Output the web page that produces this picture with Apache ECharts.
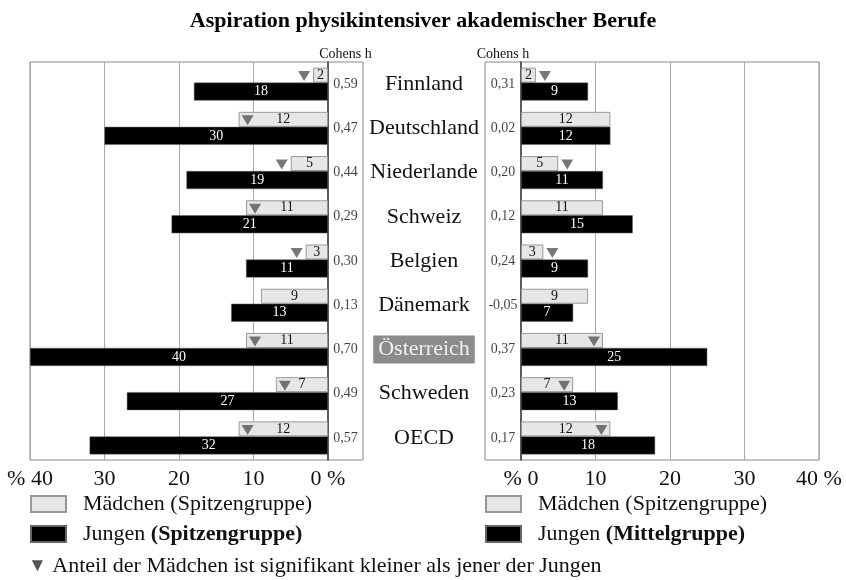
<!DOCTYPE html>
<html>
<head>
<meta charset="utf-8">
<script src="https://cdn.jsdelivr.net/npm/echarts@6/dist/echarts.min.js"></script>
<style>
  html, body { margin: 0; padding: 0; background: #fff; }
  #main { width: 846px; height: 580px; }
</style>
</head>
<body>
<div id="main"></div>
<script>
// Daten: Anteil in %, Zeilen von oben nach unten
var countries = ['Finnland', 'Deutschland', 'Niederlande', 'Schweiz', 'Belgien', 'Dänemark', 'Österreich', 'Schweden', 'OECD'];
var girlsTop = [2, 12, 5, 11, 3, 9, 11, 7, 12];
var boysTop = [18, 30, 19, 21, 11, 13, 40, 27, 32];
var boysMid = [9, 12, 11, 15, 9, 7, 25, 13, 18];
var cohenTop = [0.59, 0.47, 0.44, 0.29, 0.30, 0.13, 0.70, 0.49, 0.57];
var cohenMid = [0.31, 0.02, 0.20, 0.12, 0.24, -0.05, 0.37, 0.23, 0.17];
// 1 = Anteil der Mädchen signifikant kleiner
var sigTop = [1, 1, 1, 1, 1, 0, 1, 1, 1];
var sigMid = [1, 0, 1, 0, 1, 0, 1, 1, 1];
var tickLeft = {40: '% 40', 30: '30', 20: '20', 10: '10', 0: '0 %'};
var tickRight = {0: '% 0', 10: '10', 20: '20', 30: '30', 40: '40 %'};

var FONT = '"Liberation Serif", "Times New Roman", serif';
var GIRL = '#e6e6e6', BOY = '#000';

var myChart = echarts.init(document.getElementById('main'));

function fmtH(v) {
    return v.toFixed(2).replace('.', ',');
}

// Dreiecke: kurze Balken -> außerhalb, lange -> innen am Balkenende
function triData(vals, sig, dir) {
    var out = [];
    for (var i = 0; i < vals.length; i++) {
        if (!sig[i]) continue;
        var dx = vals[i] < 6 ? 9 * dir : -9 * dir;
        out.push({value: [vals[i], countries[i]], symbolOffset: [dx, -8]});
    }
    return out;
}

function cohenData(vals) {
    return vals.map(function (v, i) { return [0.5, countries[i], v]; });
}

var gridTop = 62, gridBottom = 120;

var valueAxis = function (idx, inverse, labels) {
    return {
        type: 'value', gridIndex: idx, min: 0, max: 40, interval: 10, inverse: inverse,
        axisLine: {show: false}, axisTick: {show: false},
        splitLine: {lineStyle: {color: '#a8a8a8', width: 1}},
        axisLabel: {
            margin: 8, color: '#111', fontFamily: FONT, fontSize: 22,
            formatter: function (v) { return labels[v]; }
        }
    };
};

var hAxis = function (idx) {
    return {
        type: 'value', gridIndex: idx, min: 0, max: 1, position: 'top',
        name: 'Cohens h', nameLocation: 'middle', nameGap: 1,
        nameTextStyle: {fontFamily: FONT, fontSize: 14, color: '#111', verticalAlign: 'bottom'},
        axisLine: {show: false}, axisTick: {show: false},
        axisLabel: {show: false}, splitLine: {show: false}
    };
};

var catAxis = function (idx, pos, extra) {
    var a = {
        type: 'category', gridIndex: idx, data: countries, inverse: true, position: pos,
        axisTick: {show: false}, axisLabel: {show: false},
        axisLine: {show: false}
    };
    return Object.assign(a, extra || {});
};

var barLabel = function (color) {
    return {show: true, position: 'inside', color: color, fontFamily: FONT, fontSize: 14};
};

var legendText = {
    fontFamily: FONT, fontSize: 22, color: '#111', padding: [0, 0, 0, 12],
    rich: {b: {fontFamily: FONT, fontSize: 22, fontWeight: 'bold', color: '#111'}}
};
var legendFmt = function (n) {
    return n.indexOf('Jungen') === 0 ? 'Jungen {b|' + n.slice(7) + '}' : n;
};

option = {
    animation: false,
    title: [{
        text: 'Aspiration physikintensiver akademischer Berufe',
        left: 'center', top: 5,
        textStyle: {fontFamily: FONT, fontSize: 22, fontWeight: 'bold', color: '#000'}
    }, {
        text: '{t|▼} Anteil der Mädchen ist signifikant kleiner als jener der Jungen',
        left: 28, top: 555, padding: 0,
        textStyle: {
            fontFamily: FONT, fontSize: 22, fontWeight: 'normal', color: '#111',
            rich: {t: {fontSize: 19, color: '#555'}}
        }
    }],
    legend: [{
        data: ['Mädchen (Spitzengruppe)', 'Jungen (Spitzengruppe)'],
        orient: 'vertical', left: 30, top: 493, padding: 0,
        itemWidth: 35, itemHeight: 16, itemGap: 8,
        icon: 'rect', selectedMode: false,
        textStyle: legendText, formatter: legendFmt
    }, {
        data: ['Mädchen (Spitzengruppe)', 'Jungen (Mittelgruppe)'],
        orient: 'vertical', left: 485, top: 493, padding: 0,
        itemWidth: 35, itemHeight: 16, itemGap: 8,
        icon: 'rect', selectedMode: false,
        textStyle: legendText, formatter: legendFmt
    }],
    grid: [
        {left: 30, right: 518, top: gridTop, bottom: gridBottom, show: true, borderColor: '#888', borderWidth: 1},
        {left: 328, right: 483, top: gridTop, bottom: gridBottom, show: true, borderColor: '#888', borderWidth: 1},
        {left: 485, right: 325, top: gridTop, bottom: gridBottom, show: true, borderColor: '#888', borderWidth: 1},
        {left: 521, right: 27, top: gridTop, bottom: gridBottom, show: true, borderColor: '#888', borderWidth: 1}
    ],
    xAxis: [
        valueAxis(0, true, tickLeft),
        hAxis(1),
        hAxis(2),
        valueAxis(3, false, tickRight)
    ],
    yAxis: [
        catAxis(0, 'right', {axisLine: {show: true, lineStyle: {color: '#444', width: 1.5}}}),
        catAxis(1, 'left'),
        catAxis(2, 'left', {
            axisLabel: {
                show: true, margin: 61, align: 'center', color: '#111',
                fontFamily: FONT, fontSize: 22,
                formatter: function (v) { return v === 'Österreich' ? '{hl|' + v + '}' : v; },
                rich: {hl: {fontFamily: FONT, fontSize: 22, color: '#f0f0f0', backgroundColor: '#8c8c8c', padding: [3, 5, 3, 5]}}
            }
        }),
        catAxis(3, 'left', {axisLine: {show: true, lineStyle: {color: '#444', width: 1.5}}})
    ],
    series: [
        // links: Spitzengruppe
        {
            name: 'Mädchen (Spitzengruppe)', type: 'bar', xAxisIndex: 0, yAxisIndex: 0,
            data: girlsTop, barWidth: 15, barGap: '0%',
            itemStyle: {color: GIRL, borderColor: '#999', borderWidth: 1},
            label: barLabel('#111'), z: 3
        },
        {
            name: 'Jungen (Spitzengruppe)', type: 'bar', xAxisIndex: 0, yAxisIndex: 0,
            data: boysTop, barWidth: 18, barGap: '0%',
            itemStyle: {color: BOY, borderColor: '#666', borderWidth: 0.5},
            label: barLabel('#fff'), z: 3
        },
        {
            type: 'scatter', xAxisIndex: 0, yAxisIndex: 0,
            data: triData(girlsTop, sigTop, -1),
            symbol: 'triangle', symbolRotate: 180, symbolSize: [12, 10],
            itemStyle: {color: '#555'}, z: 5
        },
        {
            type: 'scatter', xAxisIndex: 1, yAxisIndex: 1, symbolSize: 0,
            data: cohenData(cohenTop),
            label: {
                show: true, position: 'inside', color: '#111', fontFamily: FONT, fontSize: 14,
                formatter: function (p) { return fmtH(p.value[2]); }
            }
        },
        // rechts: Mittelgruppe
        {
            type: 'scatter', xAxisIndex: 2, yAxisIndex: 2, symbolSize: 0,
            data: cohenData(cohenMid),
            label: {
                show: true, position: 'inside', color: '#111', fontFamily: FONT, fontSize: 14,
                formatter: function (p) { return fmtH(p.value[2]); }
            }
        },
        {
            name: 'Mädchen (Spitzengruppe)', type: 'bar', xAxisIndex: 3, yAxisIndex: 3,
            data: girlsTop, barWidth: 15, barGap: '0%',
            itemStyle: {color: GIRL, borderColor: '#999', borderWidth: 1},
            label: barLabel('#111'), z: 3
        },
        {
            name: 'Jungen (Mittelgruppe)', type: 'bar', xAxisIndex: 3, yAxisIndex: 3,
            data: boysMid, barWidth: 18, barGap: '0%',
            itemStyle: {color: BOY, borderColor: '#666', borderWidth: 0.5},
            label: barLabel('#fff'), z: 3
        },
        {
            type: 'scatter', xAxisIndex: 3, yAxisIndex: 3,
            data: triData(girlsTop, sigMid, 1),
            symbol: 'triangle', symbolRotate: 180, symbolSize: [12, 10],
            itemStyle: {color: '#555'}, z: 5
        }
    ]
};

myChart.setOption(option);
</script>
</body>
</html>
